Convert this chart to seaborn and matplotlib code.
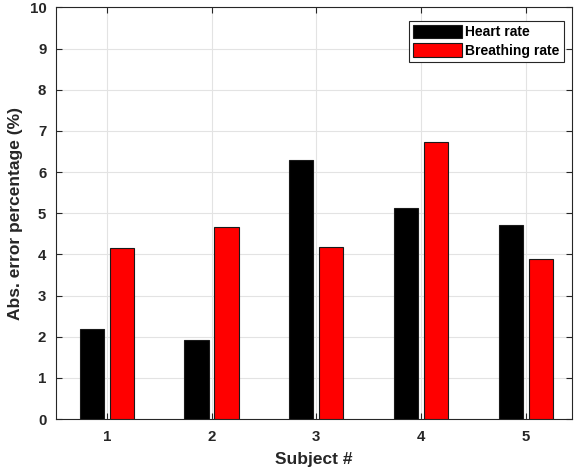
import matplotlib
matplotlib.use("Agg")
import matplotlib.pyplot as plt
import seaborn as sns
import pandas as pd

subjects = ["1", "2", "3", "4", "5"]
heart_rate = [2.19, 1.91, 6.29, 5.13, 4.71]
breathing_rate = [4.16, 4.67, 4.17, 6.73, 3.90]
series_names = ["Heart rate", "Breathing rate"]
y_ticks = list(range(0, 11))

df = pd.DataFrame({
    "Subject": subjects * 2,
    "Value": heart_rate + breathing_rate,
    "Series": [series_names[0]] * len(subjects) + [series_names[1]] * len(subjects),
})

sns.set_theme(style="whitegrid")
plt.rcParams["font.family"] = ["Liberation Sans", "DejaVu Sans"]
plt.rcParams["font.weight"] = "bold"

fig = plt.figure(figsize=(5.74, 4.69), dpi=100)
ax = fig.add_axes([56 / 574, 50 / 469, 516 / 574, 411.5 / 469])

sns.barplot(data=df, x="Subject", y="Value", hue="Series", order=subjects,
            hue_order=series_names, palette=["#000000", "#ff0000"],
            width=0.572, gap=0.196, edgecolor="#1a1a1a", linewidth=0.8,
            saturation=1, ax=ax, errorbar=None, zorder=3)

ax.set_xlim(-0.484, 4.44)
ax.set_ylim(0, 10)
ax.set_yticks(y_ticks)
ax.set_yticklabels([str(t) for t in y_ticks], fontsize=10.8, fontweight="bold", color="#262626")
ax.set_xticks(range(len(subjects)))
ax.set_xticklabels(subjects, fontsize=10.8, fontweight="bold", color="#262626")
ax.set_xlabel("Subject #", fontsize=12.5, fontweight="bold", color="#262626", labelpad=6)
ax.set_ylabel("Abs. error percentage (%)", fontsize=12.5, fontweight="bold", color="#262626", labelpad=5)

ax.grid(True, color="#e3e3e3", linewidth=0.8, zorder=0)
ax.set_axisbelow(True)
for s in ax.spines.values():
    s.set_visible(True)
    s.set_color("#262626")
    s.set_linewidth(0.8)
ax.tick_params(axis="both", which="both", direction="in", length=4, width=0.8,
               color="#262626", top=True, right=True, bottom=True, left=True)
ax.tick_params(axis="x", pad=8)
ax.tick_params(axis="y", pad=7)

leg = ax.legend(loc="upper right", bbox_to_anchor=(0.9845, 0.968), borderaxespad=0,
                frameon=True, fancybox=False, edgecolor="#262626", framealpha=1,
                prop={"weight": "bold", "size": 10}, handlelength=3.5, handleheight=1.1,
                handletextpad=0.25, borderpad=0.3, labelspacing=0.3)
leg.get_frame().set_linewidth(0.8)
for t in leg.get_texts():
    t.set_color("#000000")

fig.savefig("out.png", dpi=100)
